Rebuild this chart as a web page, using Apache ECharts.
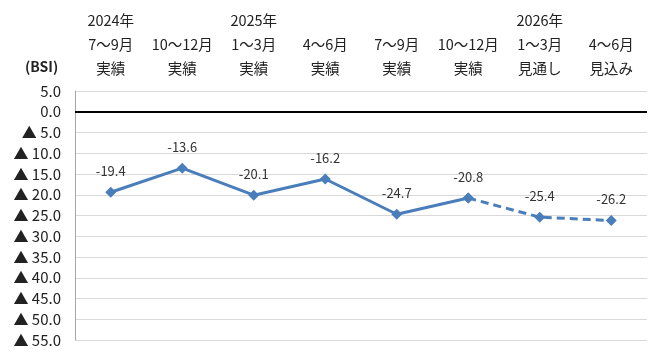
<!DOCTYPE html>
<html>
<head>
<meta charset="utf-8">
<script src="https://cdn.jsdelivr.net/npm/echarts@6/dist/echarts.min.js"></script>
<style>
  html, body { margin: 0; padding: 0; background: #fff; }
  #chart { width: 660px; height: 360px; }
</style>
</head>
<body>
<div id="chart"></div>
<script>
const years = ['2024年', '', '2025年', '', '', '', '2026年', '']
const periods = ['7～9月', '10～12月', '1～3月', '4～6月', '7～9月', '10～12月', '1～3月', '4～6月']
const kinds = ['実績', '実績', '実績', '実績', '実績', '実績', '見通し', '見込み']
const actual = [-19.4, -13.6, -20.1, -16.2, -24.7, -20.8, null, null]
const forecast = [null, null, null, null, null, -20.8, -25.4, -26.2]

const font = '"Noto Sans CJK JP", "Noto Sans", sans-serif'
const blue = '#4A7EBB'

const chart = echarts.init(document.getElementById('chart'), null, { renderer: 'canvas' })

const labelOpt = {
  show: true,
  position: 'top',
  distance: 9,
  fontFamily: font,
  fontSize: 13,
  color: '#333',
  formatter: (p) => p.value.toFixed(1),
}

chart.setOption({
  animation: false,
  backgroundColor: '#fff',
  grid: { left: 75, right: 13, top: 91, bottom: 20 },
  graphic: [
    {
      type: 'text',
      left: 25,
      top: 60,
      style: {
        text: '(BSI)',
        font: 'bold 14px ' + font,
        fill: '#222',
      },
    },
  ],
  xAxis: {
    type: 'category',
    position: 'top',
    data: periods,
    axisLine: { show: false },
    axisTick: { show: false },
    axisLabel: {
      interval: 0,
      margin: 11,
      fontFamily: font,
      fontSize: 14.5,
      color: '#222',
      lineHeight: 24,
      formatter: (v, i) => (years[i] || ' ') + '\n' + v + '\n' + kinds[i],
    },
  },
  yAxis: {
    type: 'value',
    min: -55,
    max: 5,
    interval: 5,
    axisLine: { show: true, lineStyle: { color: '#a6a6a6', width: 1 } },
    axisTick: { show: false },
    splitLine: { lineStyle: { color: '#d9d9d9', width: 1 } },
    axisLabel: {
      margin: 14,
      fontFamily: font,
      fontSize: 15,
      color: '#222',
      formatter: (v) => (v < 0 ? '▲ ' + (-v).toFixed(1) : v.toFixed(1)),
    },
  },
  series: [
    {
      type: 'line',
      data: actual,
      symbol: 'diamond',
      symbolSize: 11,
      itemStyle: { color: blue },
      lineStyle: { color: blue, width: 3 },
      label: labelOpt,
      markLine: {
        silent: true,
        symbol: 'none',
        label: { show: false },
        lineStyle: { color: '#000', width: 2, type: 'solid' },
        data: [{ yAxis: 0 }],
      },
      z: 3,
    },
    {
      type: 'line',
      data: forecast,
      symbol: 'diamond',
      symbolSize: 11,
      itemStyle: { color: blue },
      lineStyle: { color: blue, width: 3, type: [8, 5] },
      label: {
        ...labelOpt,
        formatter: (p) => (p.dataIndex > 5 ? p.value.toFixed(1) : ''),
      },
      z: 2,
    },
  ],
})
</script>
</body>
</html>
